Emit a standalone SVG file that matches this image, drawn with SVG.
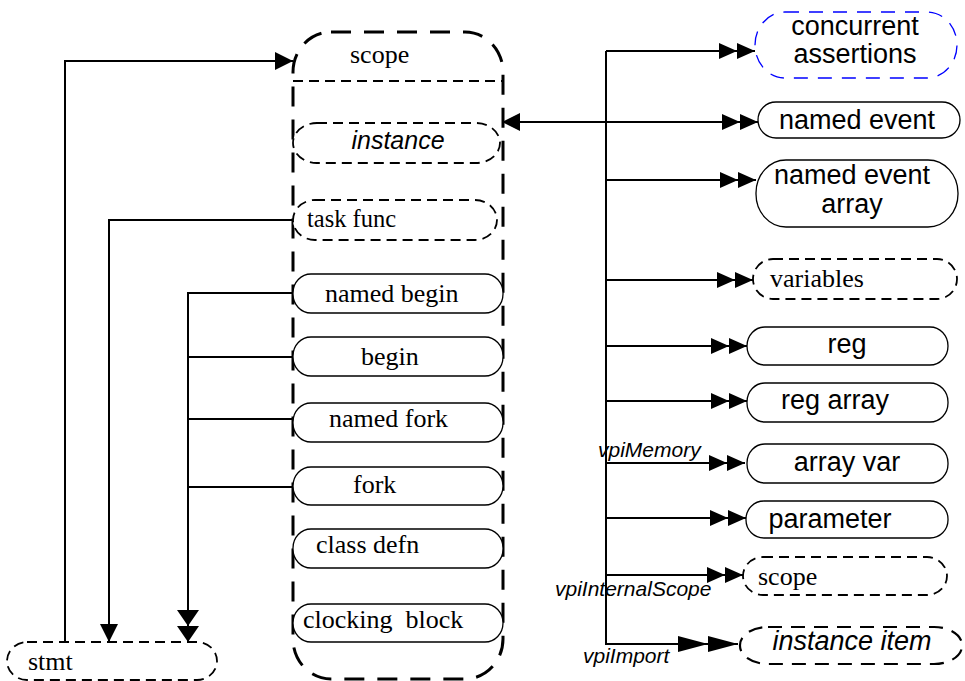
<svg xmlns="http://www.w3.org/2000/svg" width="965" height="681" viewBox="0 0 965 681">
<style>
.bg{fill:#fff}
.n{fill:#fff;stroke:#000;stroke-width:1.3}
.d{fill:#fff;stroke:#000;stroke-width:1.8;stroke-dasharray:10 6}
.d2{fill:#fff;stroke:#000;stroke-width:2.2;stroke-dasharray:14 9}
.blue{fill:#fff;stroke:#0000ff;stroke-width:1.3;stroke-dasharray:14 10}
.big{fill:none;stroke:#000;stroke-width:3;stroke-dasharray:20 13}
.div{fill:none;stroke:#000;stroke-width:2;stroke-dasharray:10 6}
.c{fill:none;stroke:#000;stroke-width:2}
.sf{font-family:"Liberation Serif","Times New Roman",serif;font-size:26px;fill:#000}
.ss{font-family:"Liberation Sans",Arial,sans-serif;font-size:27px;fill:#000}
.it{font-style:italic}
.lb{font-family:"Liberation Sans",Arial,sans-serif;font-size:21px;font-style:italic;fill:#000}
.m{text-anchor:middle}
</style>
<defs>
<marker id="a1" markerUnits="userSpaceOnUse" markerWidth="20" markerHeight="20" refX="18" refY="9" orient="auto" overflow="visible">
<path d="M0,0 L18,9 L0,18 Z" fill="#000"/>
</marker>
<marker id="a2" markerUnits="userSpaceOnUse" markerWidth="38" markerHeight="20" refX="36" refY="8" orient="auto" overflow="visible">
<path d="M0,0 L18,8 L0,16 Z M18,0 L36,8 L18,16 Z" fill="#000"/>
</marker>
<marker id="a3" markerUnits="userSpaceOnUse" markerWidth="62" markerHeight="20" refX="60" refY="8" orient="auto" overflow="visible">
<path d="M0,0 L30,8 L0,16 Z M30,0 L60,8 L30,16 Z" fill="#000"/>
</marker>
<marker id="a4" markerUnits="userSpaceOnUse" markerWidth="34" markerHeight="24" refX="32" refY="11" orient="auto" overflow="visible">
<path d="M0,0 L16,11 L0,22 Z M16,0 L32,11 L16,22 Z" fill="#000"/>
</marker>
</defs>
<rect class="bg" x="0" y="0" width="965" height="681"/>

<g id="scope-box">
<rect class="big" x="293" y="32" width="210" height="647" rx="38" ry="40"/>
<line class="div" x1="293" y1="81" x2="502" y2="81"/>
<text class="sf" x="350" y="63">scope</text>
</g>

<g id="connectors">
<polyline class="c" points="65,642 65,61 293,61" marker-end="url(#a1)"/>
<polyline class="c" points="293,220 109,220 109,642" marker-end="url(#a1)"/>
<polyline class="c" points="293,293 188,293 188,642" marker-end="url(#a4)"/>
<line class="c" x1="188" y1="357" x2="293" y2="357"/>
<line class="c" x1="188" y1="419" x2="293" y2="419"/>
<line class="c" x1="188" y1="487" x2="293" y2="487"/>
<line class="c" x1="606" y1="51" x2="606" y2="645"/>
<line class="c" x1="606" y1="122" x2="502" y2="122" marker-end="url(#a1)"/>
<line class="c" x1="606" y1="51" x2="755" y2="51" marker-end="url(#a2)"/>
<line class="c" x1="606" y1="122" x2="758" y2="122" marker-end="url(#a2)"/>
<line class="c" x1="606" y1="180" x2="756" y2="180" marker-end="url(#a2)"/>
<line class="c" x1="606" y1="280" x2="753" y2="280" marker-end="url(#a2)"/>
<line class="c" x1="606" y1="346" x2="747" y2="346" marker-end="url(#a2)"/>
<line class="c" x1="606" y1="401" x2="747" y2="401" marker-end="url(#a2)"/>
<line class="c" x1="606" y1="463" x2="745" y2="463" marker-end="url(#a2)"/>
<line class="c" x1="606" y1="518" x2="746" y2="518" marker-end="url(#a2)"/>
<line class="c" x1="606" y1="575" x2="743" y2="575" marker-end="url(#a2)"/>
<line class="c" x1="606" y1="644" x2="738" y2="644" marker-end="url(#a3)"/>
<text class="lb" x="598" y="457">vpiMemory</text>
<text class="lb" x="555" y="596">vpiInternalScope</text>
<text class="lb" x="583" y="663">vpiImport</text>
</g>

<g id="instance">
<rect class="d" x="293" y="123" width="207" height="40" rx="24" ry="20"/>
<text class="ss it m" x="398" y="149" style="font-size:25px">instance</text>
</g>
<g id="task-func">
<rect class="d" x="293" y="200" width="204" height="40" rx="22" ry="20"/>
<text class="sf" x="307" y="227" style="font-size:24.5px">task func</text>
</g>
<g id="named-begin">
<rect class="n" x="293" y="274" width="210" height="39" rx="18" ry="19"/>
<text class="sf" x="325" y="302">named begin</text>
</g>
<g id="begin">
<rect class="n" x="293" y="337" width="210" height="39" rx="18" ry="19"/>
<text class="sf" x="361" y="365">begin</text>
</g>
<g id="named-fork">
<rect class="n" x="293" y="403" width="210" height="39" rx="18" ry="19"/>
<text class="sf" x="329" y="427">named fork</text>
</g>
<g id="fork">
<rect class="n" x="293" y="467" width="210" height="38" rx="18" ry="19"/>
<text class="sf" x="353" y="493">fork</text>
</g>
<g id="class-defn">
<rect class="n" x="293" y="529" width="210" height="39" rx="18" ry="19"/>
<text class="sf" x="316" y="553">class defn</text>
</g>
<g id="clocking-block">
<rect class="n" x="293" y="604" width="210" height="38" rx="18" ry="19"/>
<text class="sf" x="303" y="628" xml:space="preserve">clocking  block</text>
</g>
<g id="stmt">
<rect class="d" x="7" y="642" width="210" height="38" rx="20" ry="19"/>
<text class="sf" x="28" y="670">stmt</text>
</g>

<g id="concurrent-assertions">
<rect class="blue" x="755" y="12" width="202" height="66" rx="30" ry="33"/>
<text class="ss m" x="855" y="35">concurrent</text>
<text class="ss m" x="855" y="63">assertions</text>
</g>
<g id="named-event">
<rect class="n" x="758" y="102" width="202" height="36" rx="18" ry="18"/>
<text class="ss m" x="857" y="129">named event</text>
</g>
<g id="named-event-array">
<rect class="n" x="756" y="160" width="202" height="67" rx="30" ry="33"/>
<text class="ss m" x="852" y="184">named event</text>
<text class="ss m" x="852" y="213">array</text>
</g>
<g id="variables">
<rect class="d" x="753" y="259" width="204" height="40" rx="20" ry="20"/>
<text class="sf" x="770" y="287">variables</text>
</g>
<g id="reg">
<rect class="n" x="747" y="327" width="201" height="38" rx="18" ry="19"/>
<text class="ss m" x="847" y="353">reg</text>
</g>
<g id="reg-array">
<rect class="n" x="747" y="383" width="201" height="39" rx="18" ry="19"/>
<text class="ss m" x="835" y="409">reg array</text>
</g>
<g id="array-var">
<rect class="n" x="747" y="444" width="201" height="39" rx="18" ry="19"/>
<text class="ss m" x="847" y="471">array var</text>
</g>
<g id="parameter">
<rect class="n" x="746" y="501" width="202" height="37" rx="18" ry="18"/>
<text class="ss m" x="830" y="528">parameter</text>
</g>
<g id="scope-internal">
<rect class="d" x="743" y="557" width="204" height="38" rx="20" ry="19"/>
<text class="sf" x="758" y="585">scope</text>
</g>
<g id="instance-item">
<rect class="d2" x="740" y="627" width="222" height="37" rx="28" ry="18"/>
<text class="ss it m" x="852" y="650">instance item</text>
</g>
</svg>
